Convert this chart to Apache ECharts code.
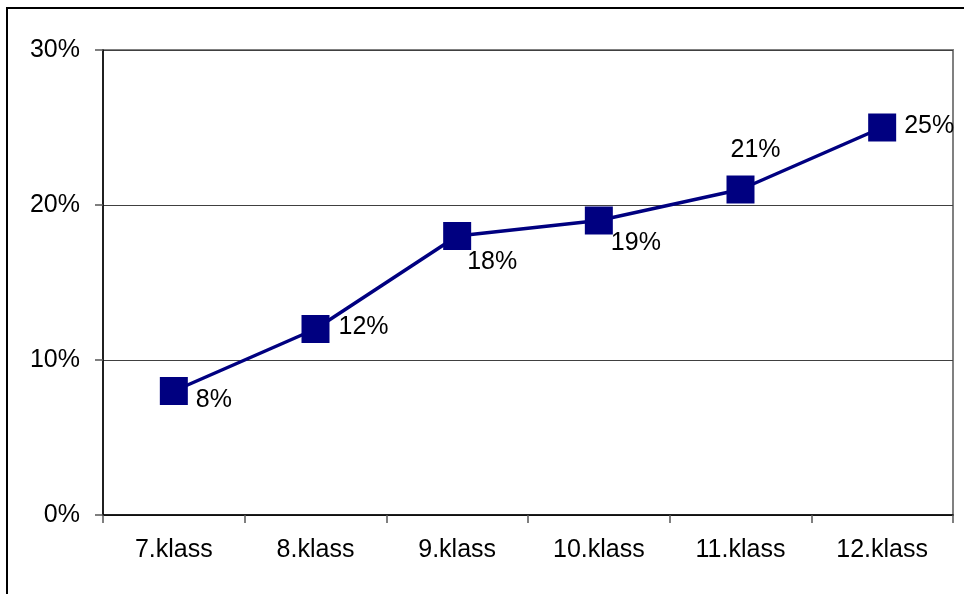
<!DOCTYPE html>
<html>
<head>
<meta charset="utf-8">
<script src="https://cdn.jsdelivr.net/npm/echarts@6/dist/echarts.min.js"></script>
<style>
html,body{margin:0;padding:0;background:#fff;}
#chart{width:964px;height:594px;}
</style>
</head>
<body>
<div id="chart"></div>
<script>
const categories = ['7.klass', '8.klass', '9.klass', '10.klass', '11.klass', '12.klass'];
const values = [8, 12, 18, 19, 21, 25];
const yTicks = [0, 10, 20, 30];

const labelOffsets = [[22, 9], [23, -2], [10, 26], [12, 23], [-10, -39], [22, -1]];

const chart = echarts.init(document.getElementById('chart'), null, {renderer: 'canvas'});
const font = 'Liberation Sans, Arial, sans-serif';

chart.setOption({
  animation: false,
  backgroundColor: '#fff',
  grid: {left: 103, right: 11, top: 50, bottom: 79, show: true, borderColor: '#808080', borderWidth: 2, backgroundColor: 'transparent'},
  graphic: [{
    type: 'rect',
    shape: {x: 7, y: 8, width: 1200, height: 1200},
    style: {fill: 'none', stroke: '#000', lineWidth: 2},
    silent: true,
    z: 100
  }],
  xAxis: {
    type: 'category',
    data: categories,
    boundaryGap: true,
    axisLine: {lineStyle: {color: '#000', width: 1.5}},
    axisTick: {show: true, length: 8, lineStyle: {color: '#555', width: 1.5}},
    axisLabel: {color: '#000', fontFamily: font, fontSize: 25, margin: 23},
    splitLine: {show: false}
  },
  yAxis: {
    type: 'value',
    min: yTicks[0],
    max: yTicks[yTicks.length - 1],
    interval: 10,
    axisLine: {show: true, lineStyle: {color: '#000', width: 1.5}},
    axisTick: {show: true, length: 8, lineStyle: {color: '#555', width: 1.5}},
    axisLabel: {color: '#000', fontFamily: font, fontSize: 25, margin: 23, formatter: '{value}%'},
    splitLine: {show: true, lineStyle: {color: '#404040', width: 1}}
  },
  series: [{
    type: 'line',
    data: values.map((v, i) => ({
      value: v,
      label: {offset: labelOffsets[i]}
    })),
    symbol: 'rect',
    symbolSize: 28,
    itemStyle: {color: '#000080'},
    lineStyle: {color: '#000080', width: 3.5},
    label: {
      show: true,
      position: 'inside',
      align: 'left',
      verticalAlign: 'middle',
      color: '#000',
      fontFamily: font,
      fontSize: 25,
      formatter: '{c}%'
    },
    z: 10
  }]
});
</script>
</body>
</html>
